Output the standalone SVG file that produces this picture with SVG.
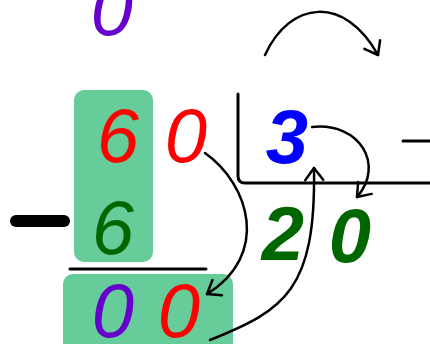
<svg xmlns="http://www.w3.org/2000/svg" width="430" height="344" viewBox="0 0 430 344">
<style>
.d{font-family:"Liberation Sans",Arial,sans-serif;font-style:italic;font-size:76px;text-anchor:middle}
.b{font-weight:bold}
.pu{fill:#6600CC}.re{fill:#FF0000}.bl{fill:#0000FF}.gr{fill:#006600}
.box{fill:#66CC99}
.ln{fill:none;stroke:#000;stroke-width:3;stroke-linecap:round}
.cn{fill:none;stroke:#000;stroke-width:2.5;stroke-linecap:round}
</style>
<defs>
<marker id="ah" markerUnits="userSpaceOnUse" markerWidth="24" markerHeight="24" refX="12" refY="0" orient="auto" viewBox="-2 -12 16 24" overflow="visible">
<path d="M0,-9 L12,0 L0,9" fill="none" stroke="#000" stroke-width="2.5" stroke-linecap="round" stroke-linejoin="round"/>
</marker>
</defs>
<g id="quotient-top"><text class="d pu" x="112" y="35">0</text></g>
<g id="box-top"><rect class="box" x="74" y="90" width="79" height="172" rx="10"/></g>
<g id="box-bottom"><rect class="box" x="63" y="274" width="170" height="90" rx="10"/></g>
<g id="dividend"><text class="d re" x="118" y="162">6</text><text class="d re" x="186" y="162">0</text></g>
<g id="divisor"><text class="d bl b" x="287" y="163">3</text></g>
<g id="subtrahend"><text class="d gr" x="113" y="254">6</text></g>
<g id="minus"><line x1="16" y1="221" x2="64" y2="221" stroke="#000" stroke-width="12" stroke-linecap="round"/></g>
<g id="rule"><line class="ln" x1="70" y1="269" x2="206" y2="269"/></g>
<g id="remainder"><text class="d pu" x="113" y="337">0</text><text class="d re" x="179" y="337">0</text></g>
<g id="bracket"><path class="ln" d="M238,94 L238,176 Q238,183 245,183 L432,183"/></g>
<g id="minus-right"><line class="ln" x1="403" y1="141" x2="432" y2="141"/></g>
<g id="quotient"><text class="d gr b" x="283" y="260">2</text><text class="d gr b" x="350" y="262">0</text></g>
<g id="connectors">
<path class="cn" d="M265,55 C290,0 345,-5 378,55" marker-end="url(#ah)"/>
<path class="cn" d="M312,127 C360,122 385,165 357,197" marker-end="url(#ah)"/>
<path class="cn" d="M205,153 C250,185 270,255 207,294" marker-end="url(#ah)"/>
<path class="cn" d="M210,340 C285,310 316,290 314,168" marker-end="url(#ah)"/>
</g>
</svg>
